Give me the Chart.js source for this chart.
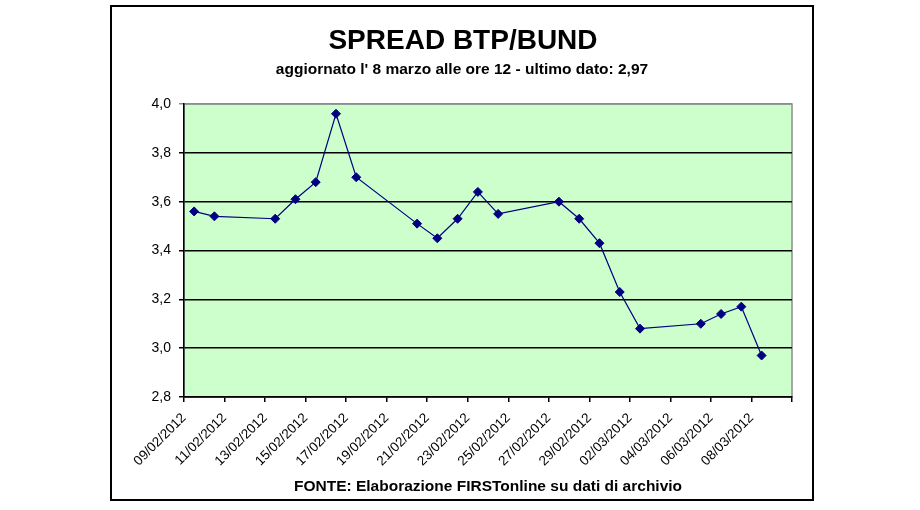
<!DOCTYPE html>
<html lang="it">
<head>
    <meta charset="UTF-8">
    <title>Spread BTP/Bund</title>
    <script src="https://cdn.jsdelivr.net/npm/chart.js"></script>
    <style>
        body {
            margin: 0;
            background-color: #ffffff;
        }
    </style>
</head>
<body>

    <canvas id="spreadChart" width="920" height="510"></canvas>

    <script>
        // dati
        const dates = ['09/02/2012', '10/02/2012', '13/02/2012', '14/02/2012', '15/02/2012', '16/02/2012', '17/02/2012',
                       '20/02/2012', '21/02/2012', '22/02/2012', '23/02/2012', '24/02/2012', '27/02/2012', '28/02/2012',
                       '29/02/2012', '01/03/2012', '02/03/2012', '05/03/2012', '06/03/2012', '07/03/2012', '08/03/2012'];
        const spread = [3.56, 3.54, 3.53, 3.61, 3.68, 3.96, 3.70,
                        3.51, 3.45, 3.53, 3.64, 3.55, 3.60, 3.53,
                        3.43, 3.23, 3.08, 3.10, 3.14, 3.17, 2.97];
        const xTickLabels = ['09/02/2012', '11/02/2012', '13/02/2012', '15/02/2012', '17/02/2012', '19/02/2012',
                             '21/02/2012', '23/02/2012', '25/02/2012', '27/02/2012', '29/02/2012', '02/03/2012',
                             '04/03/2012', '06/03/2012', '08/03/2012', ''];
        const yMin = 2.8, yMax = 4.0, yStep = 0.2;

        const chartTitle = 'SPREAD BTP/BUND';
        const chartSubtitle = "aggiornato l' 8 marzo alle ore 12 - ultimo dato: 2,97";
        const sourceNote = 'FONTE: Elaborazione FIRSTonline su dati di archivio';

        const FONT = 'Arial, "Liberation Sans", sans-serif';

        // giorni dal 09/02/2012, punto a metà giornata (asse data stile Excel)
        function dayIndex(s) {
            const [d, m, y] = s.split('/').map(Number);
            return (Date.UTC(y, m - 1, d) - Date.UTC(2012, 1, 9)) / 86400000;
        }
        const points = dates.map((d, i) => ({ x: dayIndex(d) + 0.5, y: spread[i] }));

        const frame = {
            id: 'frame',
            beforeDraw(chart) {
                const { ctx, chartArea: a } = chart;
                ctx.save();
                ctx.fillStyle = '#ccffcc';
                ctx.fillRect(a.left, a.top, a.right - a.left, a.bottom - a.top);
                ctx.strokeStyle = '#8c8c8c';
                ctx.lineWidth = 1.5;
                ctx.strokeRect(a.left, a.top, a.right - a.left, a.bottom - a.top);
                ctx.restore();
            },
            afterDraw(chart) {
                const ctx = chart.ctx;
                ctx.save();
                ctx.strokeStyle = '#000';
                ctx.lineWidth = 2;
                ctx.strokeRect(111, 6, 702, 494);
                ctx.fillStyle = '#000';
                ctx.textAlign = 'center';
                ctx.textBaseline = 'alphabetic';
                ctx.font = 'bold 28px ' + FONT;
                ctx.fillText(chartTitle, 463, 49);
                ctx.font = 'bold 15.5px ' + FONT;
                ctx.fillText(chartSubtitle, 462, 74);
                ctx.restore();
            }
        };

        new Chart(document.getElementById('spreadChart'), {
            type: 'line',
            data: {
                datasets: [{
                    label: 'Spread BTP/Bund',
                    data: points,
                    borderColor: '#000080',
                    borderWidth: 1.2,
                    backgroundColor: '#000080',
                    pointStyle: 'rectRot',
                    pointRadius: 4.5,
                    pointBorderWidth: 1,
                    pointBorderColor: '#000080',
                    pointBackgroundColor: '#000080',
                    tension: 0
                }]
            },
            options: {
                responsive: false,
                animation: false,
                events: [],
                layout: { padding: { left: 110, top: 104, right: 128, bottom: 0 } },
                plugins: {
                    legend: { display: false },
                    tooltip: { enabled: false }
                },
                scales: {
                    x: {
                        type: 'linear',
                        min: 0,
                        max: 30,
                        afterFit: (scale) => { scale.height = 113; },
                        afterBuildTicks: (scale) => {
                            scale.ticks = xTickLabels.map((_, i) => ({ value: i * 2 }));
                        },
                        ticks: {
                            autoSkip: false,
                            maxRotation: 45,
                            minRotation: 45,
                            padding: 8,
                            color: '#000',
                            font: { family: FONT, size: 13.5 },
                            callback: (value, index) => xTickLabels[index]
                        },
                        grid: {
                            drawOnChartArea: false,
                            drawTicks: true,
                            tickLength: 5,
                            color: '#000',
                            lineWidth: 1.5
                        },
                        border: { display: true, color: '#000', width: 1.5 },
                        title: {
                            display: true,
                            text: sourceNote,
                            color: '#000',
                            font: { family: FONT, size: 15.5, weight: 'bold' },
                            padding: { top: 0, bottom: 14 }
                        }
                    },
                    y: {
                        min: yMin,
                        max: yMax,
                        afterFit: (scale) => { scale.width = 74; },
                        ticks: {
                            stepSize: yStep,
                            padding: 8,
                            color: '#000',
                            font: { family: FONT, size: 14 },
                            callback: (value) => value.toFixed(1).replace('.', ',')
                        },
                        grid: {
                            color: (c) => (c.tick && c.tick.value > yMax - 0.01 ? '#8c8c8c' : '#000'),
                            lineWidth: 1.5,
                            tickLength: 5
                        },
                        border: { display: true, color: '#000', width: 1.5 }
                    }
                }
            },
            plugins: [frame]
        });
    </script>

</body>
</html>
